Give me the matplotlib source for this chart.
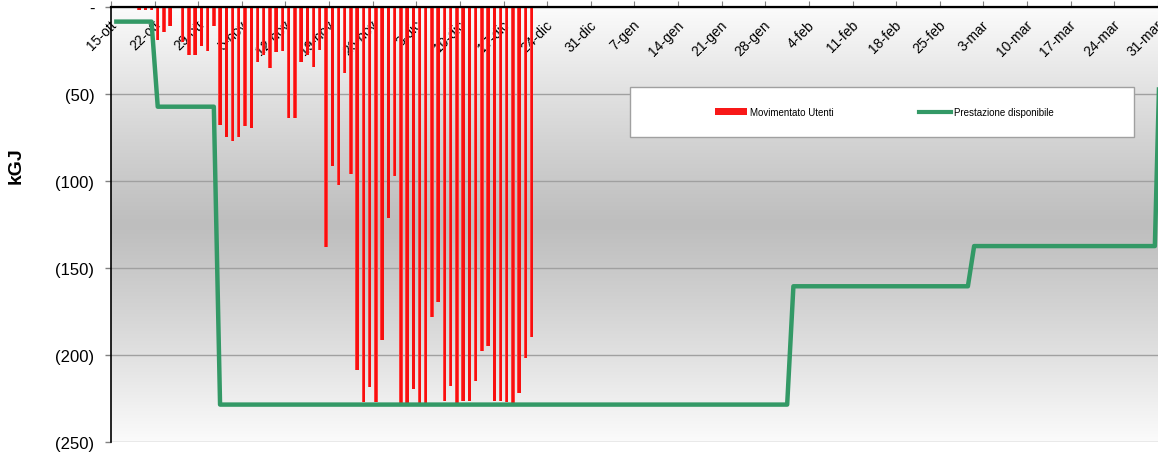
import numpy as np
import matplotlib
matplotlib.use("Agg")
import matplotlib.pyplot as plt
from matplotlib.ticker import FuncFormatter
from matplotlib.patches import Rectangle, Patch
from matplotlib.lines import Line2D

plt.rcParams['font.family'] = ['Liberation Sans', 'DejaVu Sans']

# ---- data (x = days from 15-ott) ----
settimane = ["15-ott", "22-ott", "29-ott", "5-nov", "12-nov", "19-nov", "26-nov",
             "3-dic", "10-dic", "17-dic", "24-dic", "31-dic", "7-gen", "14-gen",
             "21-gen", "28-gen", "4-feb", "11-feb", "18-feb", "25-feb", "3-mar",
             "10-mar", "17-mar", "24-mar", "31-mar"]
settimane_giorno = [0, 7, 14, 21, 28, 35, 42, 49, 56, 63, 70, 77, 84, 91, 98,
                    105, 112, 119, 126, 133, 140, 147, 154, 161, 168]

# Movimentato Utenti: daily values starting on day 4 (19-ott)
movimentato_primo_giorno = 4
movimentato = [-2, -2, -2, -18.8, -14.2, -10.7, 0, -20, -27.4, -27.4, -22.2, -25.1,
               -10.7, -67.6, -74.5, -76.8, -74.5, -68.2, -69.3, -31.4, -27.4, -34.9,
               -26.1, -25.1, -64, -64, -31.8, -27.4, -34.3, -24.5, -137.7, -91.2,
               -102.1, -37.7, -95.8, -208.4, -227.2, -218.6, -227.2, -191.2, -121.1,
               -96.9, -228.2, -227.8, -219.5, -228.2, -228.2, -178.4, -169.7, -226.6,
               -218, -227.8, -226.6, -226.6, -214.8, -197.5, -195, -226.6, -226.6,
               -227.2, -227.8, -222, -201.9, -189.8]

# Prestazione disponibile: vertices of the line (day, value)
prestazione_giorni = [0, 6, 7, 16, 17, 108, 109, 137, 138, 167, 168]
prestazione = [-8.4, -8.4, -57.3, -57.3, -228.5, -228.5, -160.5, -160.5,
               -137.4, -137.4, 0]

y_ticks = [0, -50, -100, -150, -200, -250]

# ---- figure ----
W, H = 1158, 456
fig = plt.figure(figsize=(W / 100, H / 100), dpi=100)
x_max = 175
px_per_day = 6.232
ax_left, ax_top, ax_bottom = 111, 8, 443
ax = fig.add_axes([ax_left / W, 1 - ax_bottom / H,
                   x_max * px_per_day / W, (ax_bottom - ax_top) / H])

# gradient background
t = np.linspace(-1, 1, 256)
g = 0.745 + (0.985 - 0.745) * np.abs(t) ** 1.1
grad = np.dstack([g, g, g])[:, None, :][:, :, 0, :] if False else np.repeat(g[:, None], 2, axis=1)
rgb = np.dstack([grad, grad, grad])
ax.imshow(rgb, extent=[0, 1, 0, 1], transform=ax.transAxes, aspect='auto',
          zorder=0, interpolation='bilinear')

# bars
xb = movimentato_primo_giorno + np.arange(len(movimentato)) + 0.5
ax.bar(xb, movimentato, width=0.55, color='#ff4040', linewidth=0, zorder=3)
ax.bar(xb + 0.05, movimentato, width=0.38, color='#f80f0f', linewidth=0, zorder=3)

# line
ax.plot(np.array(prestazione_giorni) + 0.5, prestazione, color='#339966',
        lw=3.2, zorder=4, solid_joinstyle='round', solid_capstyle='butt')

ax.set_xlim(0, x_max)
ax.set_ylim(-250, 0)

# y axis
ax.set_yticks(y_ticks)
ax.yaxis.set_major_formatter(FuncFormatter(
    lambda v, p: '-' if v == 0 else '(%d)' % abs(round(v))))
ax.tick_params(axis='y', direction='out', length=4, color='#808080', width=1,
               pad=8, labelsize=12)
ax.yaxis.grid(True, color='#a0a0a0', lw=1.0, zorder=1)
ax.set_axisbelow(True)
ax.set_ylabel('kGJ', fontsize=14, fontweight='bold')
ax.yaxis.set_label_coords(-0.079, 0.637)

# x axis: ticks at top
ax.xaxis.set_ticks_position('top')
ax.set_xticks(settimane_giorno)
ax.set_xticklabels([])
ax.set_xticks(np.array(settimane_giorno) + 0.5, minor=True)
ax.set_xticklabels(settimane, minor=True, rotation=45, ha='right', va='center',
                   rotation_mode='anchor', fontsize=10)
ax.tick_params(axis='x', which='major', direction='out', length=4,
               color='#808080', top=True, bottom=False,
               labeltop=False, labelbottom=False)
ax.tick_params(axis='x', which='minor', length=0, top=True, bottom=False,
               labeltop=True, labelbottom=False, pad=-11)

for s in ['bottom', 'right']:
    ax.spines[s].set_visible(False)
ax.spines['top'].set_linewidth(1.6)
ax.spines['left'].set_linewidth(1.2)
ax.spines['top'].set_zorder(5)

# legend box
fig.patches.append(Rectangle((630 / W, 1 - 138 / H), 504 / W, 50 / H,
                             transform=fig.transFigure, facecolor='white',
                             edgecolor='#a0a0a0', lw=1, zorder=4))
handles = [Patch(facecolor='#f81818', edgecolor='none', label='Movimentato Utenti'),
           Line2D([], [], color='#339966', lw=3, label='Prestazione disponibile')]
leg = fig.legend(handles=handles, loc='center', bbox_to_anchor=(884 / W, 1 - 113 / H),
                 ncol=2, frameon=False, fontsize=7, handlelength=3.3,
                 handletextpad=0.3, columnspacing=8.8)
leg.set_zorder(6)

fig.savefig('out.png', dpi=100)
